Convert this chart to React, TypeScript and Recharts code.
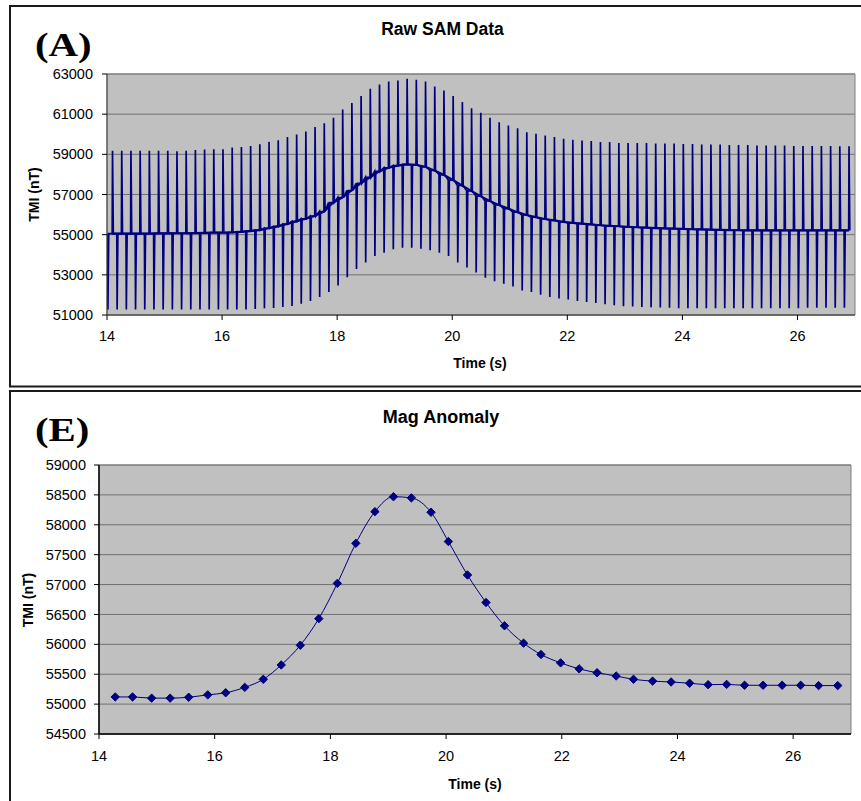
import React from "react";
import {
  LineChart,
  Line,
  XAxis,
  YAxis,
  CartesianGrid,
  ReferenceArea,
} from "recharts";

const SANS = "'Liberation Sans', Arial, sans-serif";
const SERIF = "'Liberation Serif', 'Times New Roman', serif";
const NAVY = "#000080";

// ---- Raw SAM data: one downward and one upward pulse per cycle ----
const pulseTimes = [
  14.09, 14.25, 14.41, 14.57, 14.73, 14.89, 15.05, 15.21, 15.37, 15.53,
  15.69, 15.85, 16.01, 16.17, 16.33, 16.49, 16.65, 16.81, 16.97, 17.13,
  17.29, 17.45, 17.61, 17.77, 17.93, 18.09, 18.25, 18.41, 18.57, 18.73,
  18.89, 19.05, 19.21, 19.37, 19.53, 19.69, 19.85, 20.01, 20.17, 20.33,
  20.49, 20.65, 20.81, 20.97, 21.13, 21.29, 21.45, 21.61, 21.77, 21.93,
  22.09, 22.25, 22.41, 22.57, 22.73, 22.89, 23.05, 23.21, 23.37, 23.53,
  23.69, 23.85, 24.01, 24.17, 24.33, 24.49, 24.65, 24.81, 24.97, 25.13,
  25.29, 25.45, 25.61, 25.77, 25.93, 26.09, 26.25, 26.41, 26.57, 26.73,
  26.89,
];

const upperTips = [
  59180, 59180, 59180, 59180, 59180, 59180, 59180, 59150, 59180, 59210,
  59240, 59250, 59250, 59340, 59370, 59420, 59500, 59620, 59700, 59860,
  59990, 60140, 60360, 60550, 60820, 61230, 61550, 61900, 62260, 62480,
  62630, 62680, 62760, 62710, 62630, 62380, 62180, 61900, 61600, 61300,
  61070, 60820, 60600, 60440, 60300, 60100, 60020, 59940, 59860, 59770,
  59720, 59690, 59660, 59610, 59610, 59570, 59560, 59560, 59560, 59540,
  59540, 59540, 59510, 59510, 59490, 59490, 59490, 59470, 59470, 59470,
  59440, 59440, 59440, 59440, 59420, 59420, 59420, 59420, 59420, 59400,
  59400,
];

const lowerTips = [
  51270, 51270, 51270, 51270, 51270, 51270, 51270, 51270, 51270, 51270,
  51270, 51270, 51270, 51270, 51270, 51270, 51300, 51330, 51350, 51400,
  51450, 51560, 51700, 51900, 52150, 52470, 52880, 53290, 53610, 53940,
  54100, 54270, 54350, 54350, 54300, 54220, 54100, 53940, 53610, 53370,
  53120, 52850, 52680, 52550, 52420, 52220, 52140, 52010, 51900, 51820,
  51770, 51700, 51650, 51600, 51540, 51490, 51440, 51420, 51400, 51380,
  51370, 51360, 51340, 51340, 51340, 51340, 51340, 51340, 51340, 51340,
  51340, 51340, 51340, 51340, 51340, 51340, 51360, 51360, 51360, 51360,
  51360,
];

const baseLevel = [
  55050, 55050, 55050, 55050, 55050, 55060, 55060, 55070, 55070, 55080,
  55090, 55100, 55105, 55110, 55140, 55180, 55230, 55320, 55410, 55530,
  55660, 55790, 55930, 56150, 56600, 56850, 57200, 57560, 57850, 58150,
  58330, 58440, 58500, 58480, 58380, 58200, 57980, 57720, 57450, 57180,
  56920, 56680, 56480, 56300, 56120, 55980, 55870, 55780, 55710, 55640,
  55590, 55550, 55510, 55470, 55440, 55420, 55390, 55370, 55350, 55330,
  55310, 55300, 55285, 55270, 55260, 55250, 55240, 55230, 55220, 55215,
  55215, 55215, 55215, 55215, 55215, 55215, 55215, 55215, 55215, 55215,
  55215,
];

const rawTicksY = [51000, 53000, 55000, 57000, 59000, 61000, 63000];

// ---- Mag anomaly ----
const anomalyTimes = [
  14.28, 14.58, 14.91, 15.23, 15.55, 15.88, 16.19, 16.52, 16.84, 17.15,
  17.48, 17.8, 18.12, 18.44, 18.77, 19.09, 19.4, 19.74, 20.04, 20.37,
  20.69, 21.01, 21.34, 21.64, 21.98, 22.3, 22.61, 22.94, 23.24, 23.57,
  23.89, 24.21, 24.53, 24.85, 25.16, 25.48, 25.81, 26.13, 26.44, 26.77,
];
const anomalyValues = [
  55120, 55120, 55100, 55100, 55115, 55155, 55190, 55280, 55415, 55655,
  55985, 56430, 57020, 57690, 58220, 58470, 58450, 58210, 57720, 57160,
  56700, 56310, 56020, 55830, 55690, 55590, 55525, 55470, 55415, 55385,
  55370, 55350, 55325, 55330, 55315, 55315, 55315, 55315, 55310, 55310,
];
const anomalyTicksY = [54500, 55000, 55500, 56000, 56500, 57000, 57500, 58000, 58500, 59000];

const timeTicks = [14, 16, 18, 20, 22, 24, 26];

// pulse shape: the lower pulse leads the upper one by half a cycle
const HALF = 0.08;
const rawSeries: { t: number; v: number }[] = [];
pulseTimes.forEach((t, i) => {
  const lo = t - HALF;
  rawSeries.push({ t: lo, v: baseLevel[i] });
  rawSeries.push({ t: lo + 0.006, v: lowerTips[i] });
  rawSeries.push({ t: lo + 0.02, v: baseLevel[i] });
  rawSeries.push({ t, v: baseLevel[i] });
  rawSeries.push({ t: t + 0.006, v: upperTips[i] });
  rawSeries.push({ t: t + 0.02, v: baseLevel[i] });
});
const baseSeries = pulseTimes.map((t, i) => ({ t, v: baseLevel[i] }));
const anomalySeries = anomalyTimes.map((t, i) => ({ t, v: anomalyValues[i] }));

const tickStyle = { fill: "#000", fontSize: 14.5, fontFamily: SANS };

function Diamond(props: any) {
  const { cx, cy, index } = props;
  if (cx == null || cy == null) return <g key={index} />;
  const r = 4.2;
  return (
    <path
      key={index}
      d={`M${cx},${cy - r} L${cx + r},${cy} L${cx},${cy + r} L${cx - r},${cy} Z`}
      fill={NAVY}
      stroke={NAVY}
    />
  );
}

export default function App() {
  return (
    <div style={{ position: "absolute", left: 0, top: 0, width: 861, height: 801, background: "#fff", overflow: "hidden" }}>
      {/* (A) Raw SAM Data */}
      <div style={{ position: "absolute", left: 0, top: 0 }}>
        <LineChart width={861} height={400} margin={{ top: 74, right: 6, bottom: 55, left: 47 }}>
          <CartesianGrid vertical={false} fill="#C0C0C0" stroke="#707070" />
          <ReferenceArea x1={14} x2={27} y1={51000} y2={63000} fill="none" stroke="#808080" ifOverflow="visible" />
          <XAxis
            type="number"
            dataKey="t"
            domain={[14, 27]}
            ticks={timeTicks}
            allowDataOverflow
            height={30}
            tick={tickStyle}
            tickSize={5}
            tickMargin={11}
            axisLine={{ stroke: "#404040" }}
            tickLine={{ stroke: "#000" }}
          />
          <YAxis
            type="number"
            dataKey="v"
            domain={[51000, 63000]}
            ticks={rawTicksY}
            interval={0}
            allowDataOverflow
            width={60}
            tick={tickStyle}
            tickSize={5}
            tickMargin={9}
            axisLine={{ stroke: "#404040" }}
            tickLine={{ stroke: "#000" }}
          />
          <Line data={rawSeries} dataKey="v" type="linear" stroke={NAVY} strokeWidth={1.7} dot={false} isAnimationActive={false} />
          <Line data={baseSeries} dataKey="v" type="linear" stroke={NAVY} strokeWidth={2.2} dot={false} isAnimationActive={false} />
        </LineChart>
      </div>

      {/* (E) Mag Anomaly */}
      <div style={{ position: "absolute", left: 0, top: 390 }}>
        <LineChart width={861} height={411} margin={{ top: 75, right: 10, bottom: 37, left: 39 }}>
          <CartesianGrid vertical={false} fill="#C0C0C0" stroke="#707070" />
          <ReferenceArea x1={14} x2={27} y1={54500} y2={59000} fill="none" stroke="#808080" ifOverflow="visible" />
          <XAxis
            type="number"
            dataKey="t"
            domain={[14, 27]}
            ticks={timeTicks}
            allowDataOverflow
            height={30}
            tick={tickStyle}
            tickSize={5}
            tickMargin={12}
            axisLine={{ stroke: "#000", strokeWidth: 1.5 }}
            tickLine={{ stroke: "#000" }}
          />
          <YAxis
            type="number"
            dataKey="v"
            domain={[54500, 59000]}
            ticks={anomalyTicksY}
            interval={0}
            allowDataOverflow
            width={60}
            tick={tickStyle}
            tickSize={5}
            tickMargin={8}
            axisLine={{ stroke: "#000", strokeWidth: 1.5 }}
            tickLine={{ stroke: "#000" }}
          />
          <Line
            data={anomalySeries}
            dataKey="v"
            type="monotone"
            stroke={NAVY}
            strokeWidth={1}
            dot={(p: any) => <Diamond key={p.index} {...p} />}
            activeDot={false}
            isAnimationActive={false}
          />
        </LineChart>
      </div>

      {/* frames, titles and labels */}
      <svg width={861} height={801} style={{ position: "absolute", left: 0, top: 0, pointerEvents: "none" }}>
        <path d="M 862 6 H 10 V 386.5 H 862" fill="none" stroke="#1a1a1a" strokeWidth={2} />
        <path d="M 862 391 H 10 V 802" fill="none" stroke="#1a1a1a" strokeWidth={2} />

        <text transform="translate(35,56) scale(1.2,1)" fontFamily={SERIF} fontWeight="bold" fontSize={34}>(A)</text>
        <text x={442.5} y={35} textAnchor="middle" fontFamily={SANS} fontWeight="bold" fontSize={17.5}>Raw SAM Data</text>
        <text transform="translate(38.5,194.5) rotate(-90)" textAnchor="middle" fontFamily={SANS} fontWeight="bold" fontSize={14}>TMI (nT)</text>
        <text x={480} y={368} textAnchor="middle" fontFamily={SANS} fontWeight="bold" fontSize={14}>Time (s)</text>

        <text transform="translate(35,441) scale(1.2,1)" fontFamily={SERIF} fontWeight="bold" fontSize={34}>(E)</text>
        <text x={441} y={422.5} textAnchor="middle" fontFamily={SANS} fontWeight="bold" fontSize={18}>Mag Anomaly</text>
        <text transform="translate(33,600) rotate(-90)" textAnchor="middle" fontFamily={SANS} fontWeight="bold" fontSize={14}>TMI (nT)</text>
        <text x={475} y={788.5} textAnchor="middle" fontFamily={SANS} fontWeight="bold" fontSize={14}>Time (s)</text>
      </svg>
    </div>
  );
}
